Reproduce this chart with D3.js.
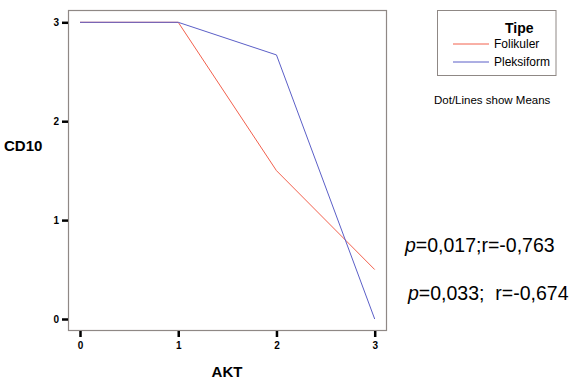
<!DOCTYPE html>
<html>
<head>
<meta charset="utf-8">
<script src="https://cdn.jsdelivr.net/npm/d3@7"></script>
<style>
  body { margin: 0; background: #fff; }
  text { font-family: "Liberation Sans", Arial, sans-serif; white-space: pre; }
</style>
</head>
<body>
<div id="chart"></div>
<script>
// data
var aktLevels = [0, 1, 2, 3];
var folikuler = [3, 3, 1.5, 0.5];
var pleksiform = [3, 3, 2.67, 0];
var yTicks = [0, 1, 2, 3];
var seriesNames = ["Folikuler", "Pleksiform"];
var seriesColors = ["#f2604d", "#5b5fc7"];
var statLines = ["0,017;r=-0,763", "0,033;  r=-0,674"];

var width = 586, height = 381;
var svg = d3.select("#chart").append("svg")
  .attr("width", width).attr("height", height);

var x = d3.scaleLinear().domain([0, 3]).range([80, 374.7]);
var y = d3.scaleLinear().domain([0, 3]).range([319, 22.3]);

// frame
svg.append("rect")
  .attr("x", 68.5).attr("y", 10.5)
  .attr("width", 318).attr("height", 320)
  .attr("fill", "none").attr("stroke", "#8f8885").attr("stroke-width", 1.2);

var xAxis = d3.axisBottom(x).tickValues(aktLevels).tickFormat(d3.format("d")).tickSize(6).tickPadding(5);
var gx = svg.append("g").attr("transform", "translate(0,331)").call(xAxis);
var yAxis = d3.axisLeft(y).tickValues(yTicks).tickFormat(d3.format("d")).tickSize(6).tickPadding(3);
var gy = svg.append("g").attr("transform", "translate(68,0)").call(yAxis);
[gx, gy].forEach(function(g) {
  g.select(".domain").remove();
  g.selectAll("line").attr("stroke", "#000").attr("stroke-width", 2.5);
  g.selectAll("text").attr("font-size", 10).attr("font-weight", "bold")
    .attr("font-family", "Liberation Sans, Arial, sans-serif").attr("fill", "#000");
});

var line = d3.line().x(function(d, i) { return x(aktLevels[i]); }).y(function(d) { return y(d); });
[folikuler, pleksiform].forEach(function(s, i) {
  svg.append("path").datum(s)
    .attr("d", line).attr("fill", "none")
    .attr("stroke", seriesColors[i]).attr("stroke-width", 1);
});

// axis titles
svg.append("text").attr("x", 227).attr("y", 377).attr("text-anchor", "middle")
  .attr("font-size", 15).attr("font-weight", "bold").text("AKT");
svg.append("text").attr("x", 4).attr("y", 151)
  .attr("font-size", 15).attr("font-weight", "bold").text("CD10");

// legend
svg.append("rect").attr("x", 437.5).attr("y", 10.5).attr("width", 118.5).attr("height", 65)
  .attr("fill", "none").attr("stroke", "#8f8885").attr("stroke-width", 1);
svg.append("text").attr("x", 505).attr("y", 33)
  .attr("font-size", 14).attr("font-weight", "bold").text("Tipe");
seriesNames.forEach(function(n, i) {
  var yy = 44 + i * 18;
  svg.append("line").attr("x1", 453).attr("x2", 489).attr("y1", yy).attr("y2", yy)
    .attr("stroke", seriesColors[i]).attr("stroke-width", 1);
  svg.append("text").attr("x", 494).attr("y", yy + 4).attr("font-size", 12).text(n);
});
svg.append("text").attr("x", 434).attr("y", 104).attr("font-size", 11.5).text("Dot/Lines show Means");

// statistics
statLines.forEach(function(s, i) {
  var t = svg.append("text").attr("x", i ? 408 : 405).attr("y", i ? 300 : 252)
    .attr("font-size", 19.5).attr("font-family", "Open Sans, sans-serif");
  t.append("tspan").attr("font-style", "italic").text("p");
  t.append("tspan").text("=" + s);
});
</script>
</body>
</html>
